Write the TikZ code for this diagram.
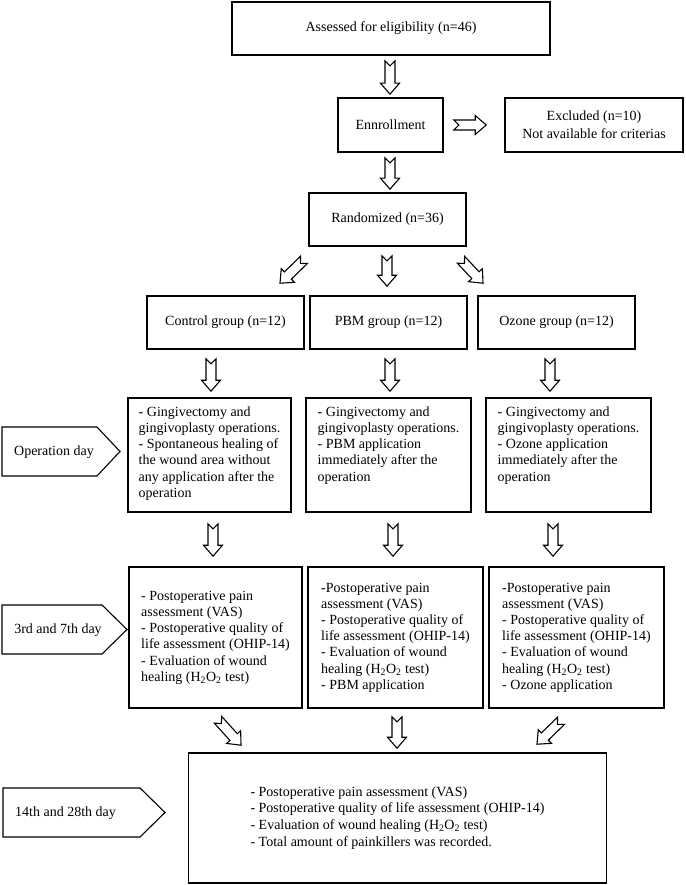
\documentclass[tikz,border=0pt]{standalone}
\usepackage{fontspec}
\setmainfont{Liberation Serif}
\usetikzlibrary{calc}
\newcommand\tline[1]{\hbox{\strut #1}}
\newcommand\hto{H\textsubscript{2}O\textsubscript{2}}
\newcommand\barrow[2]{%
  \path (#1) coordinate (ba) (#2) coordinate (bb);
  \path ($(bb)!11pt!(ba)$) coordinate (bc);
  \draw[arrowline] ($(ba)!5pt!90:(bb)$) -- ($(ba)!5pt!(bb)$) -- ($(ba)!5pt!-90:(bb)$)
    -- ($(bc)!5pt!-90:(bb)$) -- ($(bc)!9.5pt!-90:(bb)$) -- (bb)
    -- ($(bc)!9.5pt!90:(bb)$) -- ($(bc)!5pt!90:(bb)$) -- cycle;}
\tikzset{
  box/.style={draw=black, line width=1.6pt, rectangle, inner sep=0pt, align=center},
  arrowline/.style={draw=black, line width=1.1pt, line join=miter, fill=white},
  tagline/.style={draw=black, line width=1.1pt, line join=miter},
  tagtext/.style={inner sep=0pt},
}
\begin{document}
\begin{tikzpicture}[x=1pt, y=-1pt, font=\fontsize{14}{16.2}\selectfont]
\useasboundingbox[fill=white] (0,0) rectangle (685,885);

% top flow
\node[box, minimum width=318pt, minimum height=53pt] (assess) at (391,28.5) {Assessed for eligibility (n=46)};
\node[box, minimum width=105pt, minimum height=54pt] (enroll) at (390.5,125) {Ennrollment};
\node[box, minimum width=178pt, minimum height=54pt] (excl) at (594,125) {Excluded (n=10)\\[1.8pt]Not available for criterias};
\node[box, minimum width=157pt, minimum height=53pt] (rand) at (387.5,219.5) {Randomized (n=36)};

% groups
\node[box, minimum width=157pt, minimum height=53pt] (ctl1) at (225.5,322.5) {Control group (n=12)};
\node[box, minimum width=157pt, minimum height=53pt] (pbm1) at (388.5,322.5) {PBM group (n=12)};
\node[box, minimum width=157pt, minimum height=53pt] (ozn1) at (556.5,322.5) {Ozone group (n=12)};

% operation day
\node[box, inner xsep=11pt, inner ysep=7pt] (ctl2) at (209.5,455) {\parbox[c][100pt][t]{153pt}{%
  \tline{- Gingivectomy and}\tline{gingivoplasty operations.}\tline{- Spontaneous healing of}%
  \tline{the wound area without}\tline{any application after the}\tline{operation}}};
\node[box, inner xsep=12pt, inner ysep=7pt] (pbm2) at (388.5,455) {\parbox[c][100pt][t]{151pt}{%
  \tline{- Gingivectomy and}\tline{gingivoplasty operations.}\tline{- PBM application}%
  \tline{immediately after the}\tline{operation}}};
\node[box, inner xsep=12pt, inner ysep=7pt] (ozn2) at (568.5,455) {\parbox[c][100pt][t]{151pt}{%
  \tline{- Gingivectomy and}\tline{gingivoplasty operations.}\tline{- Ozone application}%
  \tline{immediately after the}\tline{operation}}};

% 3rd and 7th day
\node[box, inner xsep=12pt, inner ysep=7pt] (ctl3) at (215.5,637.5) {\parbox[c][127pt][c]{151pt}{%
  \tline{- Postoperative pain}\tline{assessment (VAS)}\tline{- Postoperative quality of}%
  \tline{life assessment (OHIP-14)}\tline{- Evaluation of wound}\tline{healing (\hto{} test)}}};
\node[box, inner xsep=13pt, inner ysep=7pt] (pbm3) at (395.5,637.5) {\parbox[c][127pt][c]{149pt}{%
  \tline{-Postoperative pain}\tline{assessment (VAS)}\tline{- Postoperative quality of}%
  \tline{life assessment (OHIP-14)}\tline{- Evaluation of wound}\tline{healing (\hto{} test)}%
  \tline{- PBM application}}};
\node[box, inner xsep=13pt, inner ysep=7pt] (ozn3) at (576.5,637.5) {\parbox[c][127pt][c]{149pt}{%
  \tline{-Postoperative pain}\tline{assessment (VAS)}\tline{- Postoperative quality of}%
  \tline{life assessment (OHIP-14)}\tline{- Evaluation of wound}\tline{healing (\hto{} test)}%
  \tline{- Ozone application}}};

% final
\node[box, inner xsep=62pt, inner ysep=7pt] (final) at (397.5,818) {\parbox[c][116pt][c]{287pt}{%
  \fontsize{14}{16.7}\selectfont
  \tline{- Postoperative pain assessment (VAS)}\tline{- Postoperative quality of life assessment (OHIP-14)}%
  \tline{- Evaluation of wound healing (\hto{} test)}\tline{- Total amount of painkillers was recorded.}}};

% side tags
\node[tagtext] (opday) at (54,452) {Operation day};
\draw[tagline] (2,427) -- (97,427) -- (120,451.5) -- (97,476) -- (2,476) -- cycle;
\node[tagtext] (day37) at (58,630) {3rd and 7th day};
\draw[tagline] (2,605) -- (102,605) -- (127,629.5) -- (102,654) -- (2,654) -- cycle;
\node[tagtext] (day1428) at (65.5,813) {14th and 28th day};
\draw[tagline] (3,788) -- (140,788) -- (165,812.5) -- (140,837) -- (3,837) -- cycle;

% block arrows
\barrow{$(assess.south)+(-1,5)$}{$(enroll.north)+(-0.5,-3)$}
\barrow{$(enroll.east)+(10,0)$}{$(excl.west)+(-18,0)$}
\barrow{$(enroll.south)+(-0.5,5)$}{$(rand.north)+(2.5,-3)$}
\barrow{$(rand.south)+(-83.5,13)$}{$(ctl1.north)+(54.5,-12)$}
\barrow{$(rand.south)+(-0.5,9)$}{$(pbm1.north)+(-1.5,-9)$}
\barrow{$(rand.south)+(73.5,13)$}{$(ozn1.north)+(-73.5,-12)$}
\barrow{$(ctl1.south)+(-14.5,9)$}{$(ctl2.north)+(1.5,-6)$}
\barrow{$(pbm1.south)+(1.5,9)$}{$(pbm2.north)+(1.5,-6)$}
\barrow{$(ozn1.south)+(-6.5,9)$}{$(ozn2.north)+(-18.5,-6)$}
\barrow{$(ctl2.south)+(3.5,11)$}{$(ctl3.north)+(-2.5,-10)$}
\barrow{$(pbm2.south)+(4.5,11)$}{$(pbm3.north)+(-2.5,-10)$}
\barrow{$(ozn2.south)+(-15.5,11)$}{$(ozn3.north)+(-23.5,-10)$}
\barrow{$(ctl3.south)+(2.5,11)$}{$(final.north)+(-156.5,-7)$}
\barrow{$(pbm3.south)+(1.5,8)$}{$(final.north)+(-0.5,-4)$}
\barrow{$(ozn3.south)+(-15.5,12)$}{$(final.north)+(139.5,-8)$}
\end{tikzpicture}
\end{document}
